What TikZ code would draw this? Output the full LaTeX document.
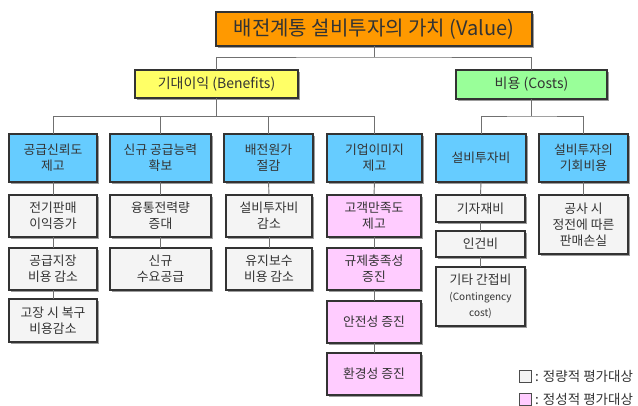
\documentclass[tikz,border=0pt]{standalone}
\usepackage{fontspec}
\setmainfont{Noto Sans CJK KR}
\usetikzlibrary{shadows}
\definecolor{cOrange}{HTML}{FF9900}
\definecolor{cYellow}{HTML}{FFFF66}
\definecolor{cGreen}{HTML}{99FF99}
\definecolor{cBlue}{HTML}{66CCFF}
\definecolor{cGray}{HTML}{F4F4F4}
\definecolor{cPink}{HTML}{FFCCFF}
\definecolor{cLine}{HTML}{707070}
\definecolor{cText}{HTML}{333333}
\begin{document}
\begin{tikzpicture}[x=1pt,y=-1pt,
  box/.style={draw=black!80, line width=1.1pt, inner sep=0pt, outer sep=0pt,
    align=center, text=cText,
    drop shadow={shadow xshift=1.6pt, shadow yshift=-1.6pt, fill=black!55, opacity=0.7},
    font=\fontsize{12.8}{16}\selectfont},
  topbox/.style={box, fill=cOrange, font=\fontsize{20}{22}\selectfont},
  benbox/.style={box, fill=cYellow, font=\fontsize{14}{17}\selectfont},
  costbox/.style={box, fill=cGreen, font=\fontsize{14}{17}\selectfont},
  bluebox/.style={box, fill=cBlue},
  graybox/.style={box, fill=cGray},
  pinkbox/.style={box, fill=cPink},
  conn/.style={draw=cLine, line width=0.9pt},
  legsq/.style={draw=black!70, line width=0.8pt, minimum width=12pt, minimum height=12pt, inner sep=0pt},
  legtxt/.style={anchor=west, text=cText, inner sep=0pt, font=\fontsize{13.5}{15}\selectfont}
]
\useasboundingbox[fill=white] (0,0) rectangle (638,405);

% top
\node[topbox, minimum width=316pt, minimum height=34pt] (top) at (374,29) {배전계통 설비투자의 가치 (Value)};
\node[benbox, minimum width=163pt, minimum height=28pt] (ben) at (216.5,84) {기대이익 (Benefits)};
\node[costbox, minimum width=151pt, minimum height=29pt] (cost) at (531.5,84.5) {비용 (Costs)};

% level 2
\node[bluebox, minimum width=88pt, minimum height=48pt] (b1) at (53,158) {공급신뢰도\\제고};
\node[bluebox, minimum width=101pt, minimum height=48pt] (b2) at (160.5,158) {신규 공급능력\\확보};
\node[bluebox, minimum width=89pt, minimum height=48pt] (b3) at (268.5,158) {배전원가\\절감};
\node[bluebox, minimum width=95pt, minimum height=48pt] (b4) at (374.5,158) {기업이미지\\제고};
\node[bluebox, minimum width=90pt, minimum height=48pt] (b5) at (481,158) {설비투자비};
\node[bluebox, minimum width=89pt, minimum height=48pt] (b6) at (583.5,158) {설비투자의\\기회비용};

% level 3
\node[graybox, minimum width=88pt, minimum height=42pt] (c1a) at (53,216) {전기판매\\이익증가};
\node[graybox, minimum width=88pt, minimum height=42pt] (c1b) at (53,269) {공급지장\\비용 감소};
\node[graybox, minimum width=88pt, minimum height=43pt] (c1c) at (53,320.5) {고장 시 복구\\비용감소};

\node[graybox, minimum width=101pt, minimum height=42pt] (c2a) at (160.5,216) {융통전력량\\증대};
\node[graybox, minimum width=101pt, minimum height=42pt] (c2b) at (160.5,269) {신규\\수요공급};

\node[graybox, minimum width=86pt, minimum height=42pt] (c3a) at (269,216) {설비투자비\\감소};
\node[graybox, minimum width=86pt, minimum height=42pt] (c3b) at (269,269) {유지보수\\비용 감소};

\node[pinkbox, minimum width=94pt, minimum height=42pt] (c4a) at (374,216) {고객만족도\\제고};
\node[pinkbox, minimum width=94pt, minimum height=42pt] (c4b) at (374,269) {규제충족성\\증진};
\node[pinkbox, minimum width=94pt, minimum height=42pt] (c4c) at (374,322) {안전성 증진};
\node[pinkbox, minimum width=94pt, minimum height=42pt] (c4d) at (374,374) {환경성 증진};

\node[graybox, minimum width=89pt, minimum height=27pt] (c5a) at (480.5,208.5) {기자재비};
\node[graybox, minimum width=89pt, minimum height=26pt] (c5b) at (480.5,244) {인건비};
\node[graybox, minimum width=89pt, minimum height=59pt] (c5c) at (480.5,296.5) {기타 간접비\\{\fontsize{10}{15}\selectfont (Contingency}\\{\fontsize{10}{15}\selectfont cost)}};

\node[graybox, minimum width=89pt, minimum height=59pt] (c6a) at (583.5,224.5) {공사 시\\정전에 따른\\판매손실};

% connectors
\coordinate (busA) at (0,57);
\coordinate (busB) at (0,116);
\draw[conn] (top.south) -- (top.south |- busA);
\draw[conn] (ben.north) |- (top.south |- busA) -| (cost.north);

\draw[conn] (ben.south) -- (ben.south |- busB);
\draw[conn] (b1.north) |- (ben.south |- busB);
\draw[conn] (b2.north) -- (b2.north |- busB);
\draw[conn] (b3.north) -- (b3.north |- busB);
\draw[conn] (b4.north) |- (ben.south |- busB);

\draw[conn] (b5.north) |- (cost.south |- busB) -| (b6.north);
\draw[conn] (cost.south) -- (cost.south |- busB);

\draw[conn] (b1.south) -- (c1a.north);
\draw[conn] (c1a.south) -- (c1b.north);
\draw[conn] (c1b.south) -- (c1c.north);
\draw[conn] (b2.south) -- (c2a.north);
\draw[conn] (c2a.south) -- (c2b.north);
\draw[conn] (b3.south) -- (c3a.north);
\draw[conn] (c3a.south) -- (c3b.north);
\draw[conn] (b4.south) -- (c4a.north);
\draw[conn] (c4a.south) -- (c4b.north);
\draw[conn] (c4b.south) -- (c4c.north);
\draw[conn] (c4c.south) -- (c4d.north);
\draw[conn] (b5.south) -- (c5a.north);
\draw[conn] (c5a.south) -- (c5b.north);
\draw[conn] (c5b.south) -- (c5c.north);
\draw[conn] (b6.south) -- (c6a.north);

% legend
\node[legsq, fill=cGray] (l1) at (525.5,376.5) {};
\node[legtxt] (l1t) at (535,376.5) {: 정량적 평가대상};
\node[legsq, fill=cPink] (l2) at (525.5,399.5) {};
\node[legtxt] (l2t) at (535,399.5) {: 정성적 평가대상};
\end{tikzpicture}
\end{document}
